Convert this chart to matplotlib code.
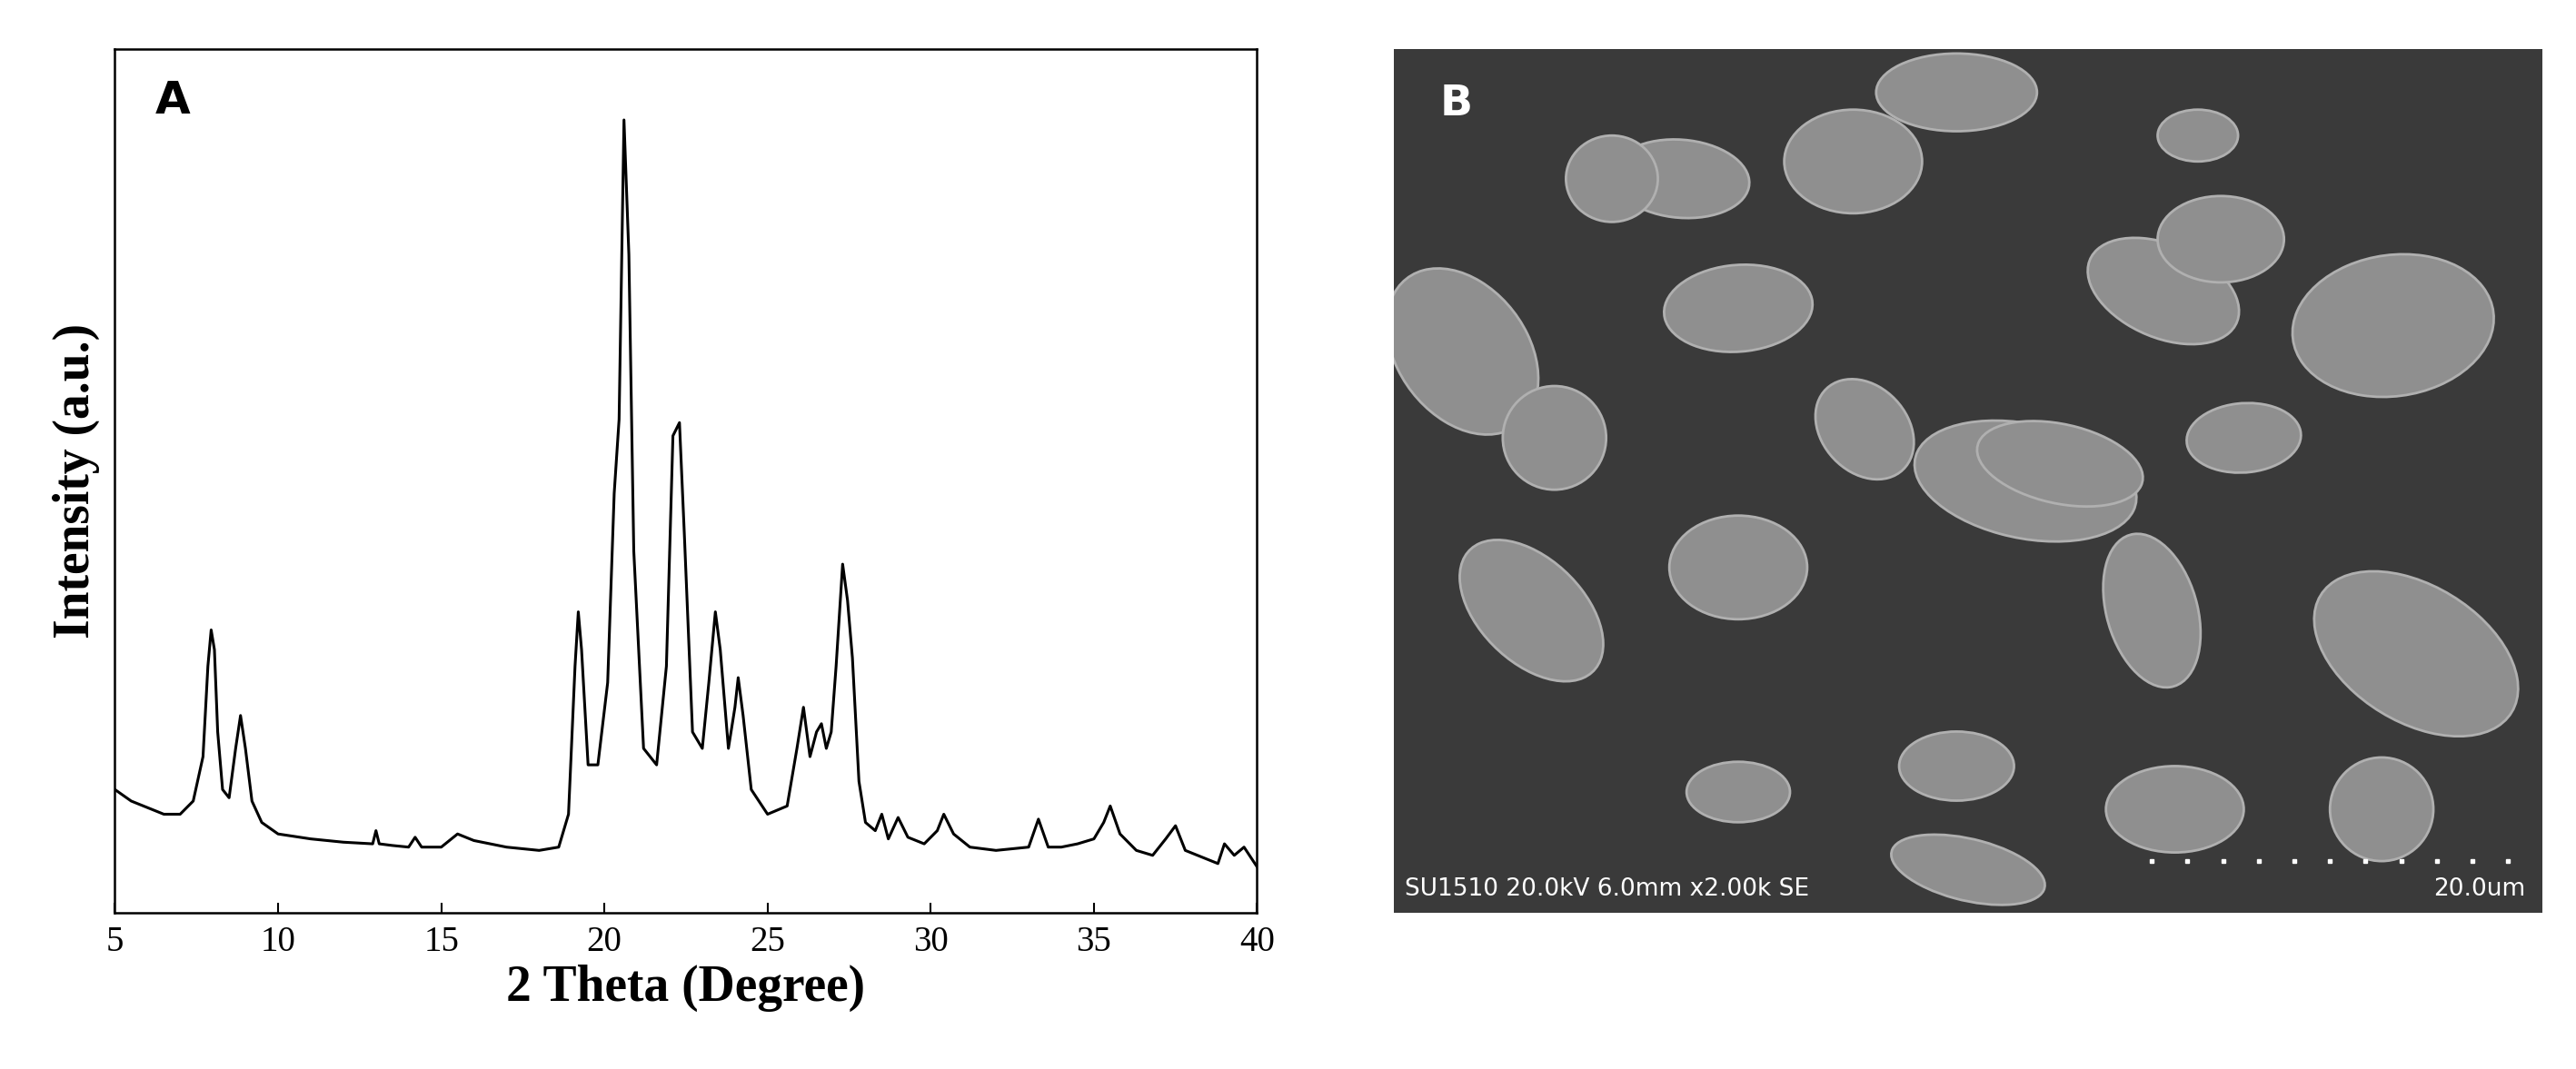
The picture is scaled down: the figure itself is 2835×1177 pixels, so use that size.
import numpy as np
import matplotlib
matplotlib.use("Agg")
import matplotlib.pyplot as plt
from matplotlib.patches import Ellipse

# XRD pattern (2 theta, intensity in arbitrary units)
two_theta = [5.0, 5.5, 6.0, 6.5, 7.0, 7.4, 7.7, 7.85, 7.95, 8.05, 8.15, 8.3, 8.5, 8.7, 8.85, 9.0, 9.2,
             9.5, 10.0, 11.0, 12.0, 12.9, 13.0, 13.1, 13.5, 14.0, 14.2, 14.4, 15.0, 15.5, 16.0,
             17.0, 18.0, 18.6, 18.9, 19.1, 19.2, 19.3, 19.5, 19.8, 20.1, 20.3, 20.45, 20.6, 20.75,
             20.9, 21.2, 21.6, 21.9, 22.1, 22.3, 22.45, 22.7, 23.0, 23.2, 23.4, 23.55, 23.8, 24.0,
             24.1, 24.25, 24.5, 25.0, 25.6, 25.9, 26.1, 26.3, 26.5, 26.65, 26.8, 26.95, 27.1, 27.3,
             27.45, 27.6, 27.8, 28.0, 28.3, 28.5, 28.7, 29.0, 29.3, 29.8, 30.2, 30.4, 30.7, 31.2,
             32.0, 33.0, 33.3, 33.6, 34.0, 34.5, 35.0, 35.3, 35.5, 35.8, 36.3, 36.8, 37.2, 37.5,
             37.8, 38.3, 38.8, 39.0, 39.3, 39.6, 40.0]
intensity = [75, 68, 64, 60, 60, 68, 95, 150, 172, 160, 110, 75, 70, 100, 120, 100, 68,
             55, 48, 45, 43, 42, 50, 42, 41, 40, 46, 40, 40, 48, 44,
             40, 38, 40, 60, 150, 183, 160, 90, 90, 140, 255, 300, 482, 400,
             220, 100, 90, 150, 290, 298, 230, 110, 100, 140, 183, 160, 100, 125,
             143, 120, 75, 60, 65, 100, 125, 95, 110, 115, 100, 110, 150, 212,
             190, 155, 80, 55, 50, 60, 45, 58, 46, 42, 50, 60, 48, 40,
             38, 40, 57, 40, 40, 42, 45, 55, 65, 48, 38, 35, 45, 53,
             38, 34, 30, 42, 35, 40, 28]

fig = plt.figure(figsize=(28.35, 11.77), dpi=100)

ax = fig.add_axes([0.0446, 0.146, 0.4434, 0.808])
ax.plot(two_theta, intensity, color="black", linewidth=2.2)
ax.set_xlim(5, 40)
ax.set_ylim(0, 525)
ax.set_xticks([5, 10, 15, 20, 25, 30, 35, 40])
ax.set_yticks([])
ax.tick_params(axis="x", direction="in", length=8, width=1.5, labelsize=28, pad=10)
for lbl in ax.get_xticklabels():
    lbl.set_family("Liberation Serif")
for s in ax.spines.values():
    s.set_linewidth(1.8)
ax.set_xlabel("2 Theta (Degree)", family="Liberation Serif", fontweight="bold", fontsize=40)
ax.set_ylabel("Intensity (a.u.)", family="Liberation Serif", fontweight="bold", fontsize=40, labelpad=12)
ax.text(0.035, 0.965, "A", transform=ax.transAxes, fontsize=36, fontweight="bold", va="top")

# panel B: SEM micrograph placeholder
bx = fig.add_axes([0.541, 0.146, 0.446, 0.808])
bx.set_facecolor("#3a3a3a")
bx.set_xlim(0, 1)
bx.set_ylim(0, 1)
bx.set_xticks([])
bx.set_yticks([])
particles = [(0.06, 0.65, 0.12, 0.2, 20), (0.14, 0.55, 0.09, 0.12, 0), (0.12, 0.35, 0.1, 0.18, 30),
             (0.25, 0.85, 0.12, 0.09, -10), (0.3, 0.7, 0.13, 0.1, 10), (0.3, 0.4, 0.12, 0.12, 0),
             (0.4, 0.87, 0.12, 0.12, 0), (0.41, 0.56, 0.08, 0.12, 20), (0.55, 0.5, 0.13, 0.2, 70),
             (0.58, 0.52, 0.09, 0.15, 70), (0.49, 0.17, 0.1, 0.08, 0), (0.3, 0.14, 0.09, 0.07, 0),
             (0.5, 0.05, 0.14, 0.07, -20), (0.49, 0.95, 0.14, 0.09, 0), (0.67, 0.72, 0.15, 0.1, -40),
             (0.72, 0.78, 0.11, 0.1, 0), (0.74, 0.55, 0.1, 0.08, 10), (0.87, 0.68, 0.18, 0.16, 30),
             (0.89, 0.3, 0.14, 0.22, 40), (0.86, 0.12, 0.09, 0.12, 0), (0.68, 0.12, 0.12, 0.1, 0),
             (0.66, 0.35, 0.08, 0.18, 10), (0.19, 0.85, 0.08, 0.1, 0), (0.7, 0.9, 0.07, 0.06, 0)]
for x, y, w, h, ang in particles:
    bx.add_patch(Ellipse((x, y), w, h, angle=ang, facecolor="#8f8f8f", edgecolor="#b0b0b0", lw=2))
bx.text(0.04, 0.96, "B", transform=bx.transAxes, fontsize=34, fontweight="bold", color="white", va="top")
bx.text(0.01, 0.02, "SU1510 20.0kV 6.0mm x2.00k SE", transform=bx.transAxes, fontsize=19,
        color="white")
bx.text(0.985, 0.02, "20.0um", transform=bx.transAxes, fontsize=19, color="white", ha="right")
for i in range(11):
    bx.plot(0.66 + i * 0.031, 0.06, marker="s", markersize=3, color="white")
for s in bx.spines.values():
    s.set_visible(False)

fig.savefig("out.png", dpi=100)
